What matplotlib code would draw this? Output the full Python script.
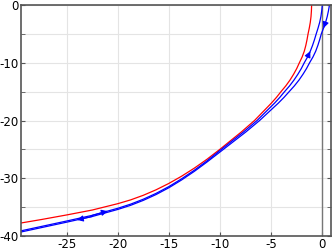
import numpy as np
from matplotlib import pyplot as plt
from matplotlib.ticker import MultipleLocator

plt.rcParams["axes.unicode_minus"] = False

# red curve (top -> bottom left)
red_x = [-1.00, -1.02, -1.06, -1.13, -1.23, -1.35, -1.45, -1.57, -1.72, -1.93,
         -2.20, -2.46, -2.77, -3.12, -3.53, -4.00, -4.45, -4.95, -5.50, -6.05,
         -6.60, -7.25, -7.90, -8.60, -9.30, -10.0, -11.25, -12.5, -13.75, -15.0,
         -16.25, -17.5, -18.75, -20.0, -22.5, -25.0, -27.5, -30.0, -31.0]
red_y = [0, -1, -2, -3, -4, -5, -6, -7, -8, -9,
         -10, -11, -12, -13, -14, -15, -16, -17, -18, -19,
         -20, -21, -22, -23, -24, -25, -26.7, -28.25, -29.65, -30.9,
         -32.0, -32.95, -33.75, -34.4, -35.5, -36.35, -37.15, -37.9, -38.15]

# blue branch travelled upwards (bottom left -> top, left one at the top)
up_x = [-31.0, -30.0, -27.5, -25.0, -22.5, -20.0, -18.75, -17.5, -16.25, -15.0,
        -13.75, -12.5, -11.25, -9.85, -9.13, -8.41, -7.69, -7.02, -6.35, -5.78,
        -5.21, -4.64, -4.12, -3.65, -3.16, -2.73, -2.35, -2.01, -1.72, -1.40,
        -1.13, -0.91, -0.72, -0.55, -0.37, -0.21, -0.09, -0.01, 0.05]
up_y = [-39.6, -39.3, -38.35, -37.4, -36.42, -35.2, -34.49, -33.63, -32.62, -31.45,
        -30.1, -28.61, -26.98, -25, -24, -23, -22, -21, -20, -19,
        -18, -17, -16, -15, -14, -13, -12, -11, -10, -9,
        -8, -7, -6, -5, -4, -3, -2, -1, 0]

# blue branch travelled downwards (top -> bottom left, right one at the top)
down_x = [0.75, 0.65, 0.53, 0.37, 0.17, -0.05, -0.21, -0.39, -0.60, -0.87,
          -1.20, -1.50, -1.85, -2.24, -2.69, -3.20, -3.71, -4.27, -4.88, -5.49,
          -6.10, -6.78, -7.46, -8.19, -8.92, -9.65, -11.25, -12.5, -13.75, -15.0,
          -16.25, -17.5, -18.75, -20.0, -22.5, -25.0, -27.5, -30.0, -31.0]
down_y = [0, -1, -2, -3, -4, -5, -6, -7, -8, -9,
          -10, -11, -12, -13, -14, -15, -16, -17, -18, -19,
          -20, -21, -22, -23, -24, -25, -27.18, -28.81, -30.3, -31.65,
          -32.82, -33.83, -34.69, -35.4, -36.62, -37.6, -38.55, -39.5, -39.8]

# (segment start index, head position along the segment)
up_arrows = [(4, 0.6), (29, 1.0)]
down_arrows = [(3, 1.0), (34, 0.6)]


def add_arrows(ax, xs, ys, specs, color):
    for i, f in specs:
        p0 = np.array([xs[i], ys[i]])
        p1 = np.array([xs[i + 1], ys[i + 1]])
        ax.annotate(
            "",
            xy=p0 + f * (p1 - p0),
            xytext=p0,
            arrowprops=dict(arrowstyle="-|>", color=color, lw=0.8,
                            mutation_scale=9, shrinkA=0, shrinkB=0),
        )


fig = plt.figure(figsize=(3.32, 2.5), dpi=100)
ax = fig.add_axes([0.063, 0.056, 0.934, 0.924])

ax.xaxis.set_major_locator(MultipleLocator(5))
ax.yaxis.set_major_locator(MultipleLocator(10))
ax.yaxis.set_minor_locator(MultipleLocator(5))
ax.grid(True, which="both", color="#e4e4e4", lw=0.8)
ax.set_axisbelow(True)

ax.axvline(0, color="#777777", lw=1.0, zorder=1)
ax.plot(red_x, red_y, color="#ff0000", lw=0.9)
ax.plot(up_x, up_y, color="#0000ff", lw=0.9)
ax.plot(down_x, down_y, color="#0000ff", lw=0.9)
add_arrows(ax, up_x, up_y, up_arrows, "#0000ff")
add_arrows(ax, down_x, down_y, down_arrows, "#0000ff")

ax.set_xlim(-29.5, 0.9)
ax.set_ylim(-40, 0)

for s in ax.spines.values():
    s.set_color("#555555")
    s.set_linewidth(1.2)
ax.tick_params(which="both", direction="in", length=3, color="#555555",
               labelsize=8.5, pad=2, right=True)
ax.tick_params(axis="x", pad=1.5)

fig.savefig("out.png", dpi=100)
